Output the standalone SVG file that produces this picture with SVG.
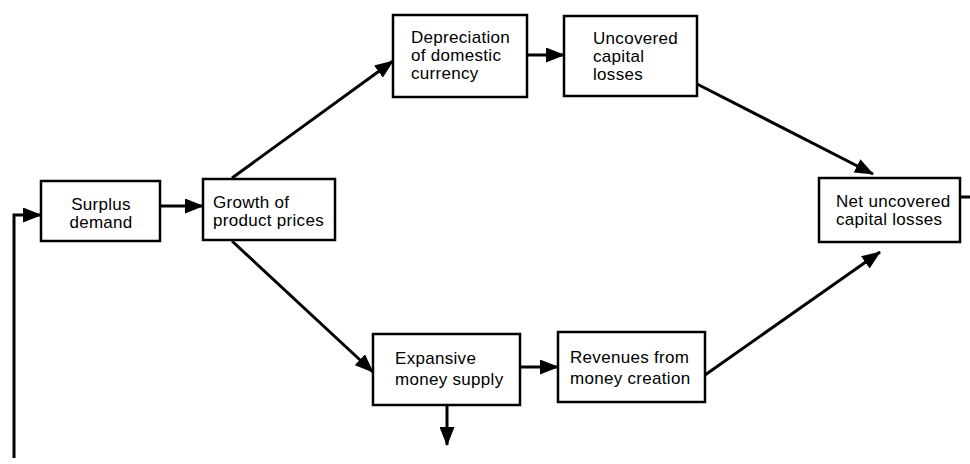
<svg xmlns="http://www.w3.org/2000/svg" width="970" height="464" viewBox="0 0 970 464">
<style>
.box{fill:#fff;stroke:#000;stroke-width:2.5}
.lbl{font-family:"Liberation Sans",Arial,sans-serif;font-size:17px;fill:#000;letter-spacing:0.3px}
.c{fill:none;stroke:#000;stroke-width:3}
</style>
<defs>
<marker id="ah" markerUnits="userSpaceOnUse" markerWidth="19" markerHeight="15" refX="18" refY="7.5" orient="auto">
<path d="M0,0 L19,7.5 L0,15 z" fill="#000"/>
</marker>
</defs>
<rect width="970" height="464" fill="#fff"/>
<g id="connectors">
<polyline class="c" points="14,458 14,215 41,215" marker-end="url(#ah)"/>
<line class="c" x1="160" y1="206" x2="203" y2="206" marker-end="url(#ah)"/>
<line class="c" x1="232" y1="178" x2="393" y2="61" marker-end="url(#ah)"/>
<line class="c" x1="232" y1="241" x2="373" y2="372" marker-end="url(#ah)"/>
<line class="c" x1="527" y1="55" x2="564" y2="55" marker-end="url(#ah)"/>
<line class="c" x1="697" y1="84" x2="873" y2="174" marker-end="url(#ah)"/>
<line class="c" x1="520" y1="367" x2="558" y2="367" marker-end="url(#ah)"/>
<line class="c" x1="705" y1="375" x2="880" y2="252" marker-end="url(#ah)"/>
<line class="c" x1="447" y1="405" x2="447" y2="445" marker-end="url(#ah)"/>
<line class="c" x1="960" y1="197" x2="970" y2="197"/>
</g>
<g id="surplus">
<rect class="box" x="41" y="181" width="119" height="60"/>
<text class="lbl" x="101" y="210" text-anchor="middle">Surplus</text>
<text class="lbl" x="101" y="228" text-anchor="middle">demand</text>
</g>
<g id="growth">
<rect class="box" x="203" y="179" width="132" height="61"/>
<text class="lbl" x="213" y="208">Growth of</text>
<text class="lbl" x="213" y="226">product prices</text>
</g>
<g id="depreciation">
<rect class="box" x="393" y="15" width="134" height="82"/>
<text class="lbl" x="411" y="43">Depreciation</text>
<text class="lbl" x="411" y="61">of domestic</text>
<text class="lbl" x="411" y="79">currency</text>
</g>
<g id="uncovered">
<rect class="box" x="564" y="16" width="133" height="80"/>
<text class="lbl" x="593" y="44">Uncovered</text>
<text class="lbl" x="593" y="62">capital</text>
<text class="lbl" x="593" y="80">losses</text>
</g>
<g id="expansive">
<rect class="box" x="373" y="334" width="147" height="71"/>
<text class="lbl" x="395" y="364">Expansive</text>
<text class="lbl" x="395" y="385">money supply</text>
</g>
<g id="revenues">
<rect class="box" x="558" y="332" width="147" height="70"/>
<text class="lbl" x="570" y="363">Revenues from</text>
<text class="lbl" x="570" y="384">money creation</text>
</g>
<g id="net">
<rect class="box" x="819" y="178" width="141" height="64"/>
<text class="lbl" x="836" y="207">Net uncovered</text>
<text class="lbl" x="836" y="225">capital losses</text>
</g>
</svg>
